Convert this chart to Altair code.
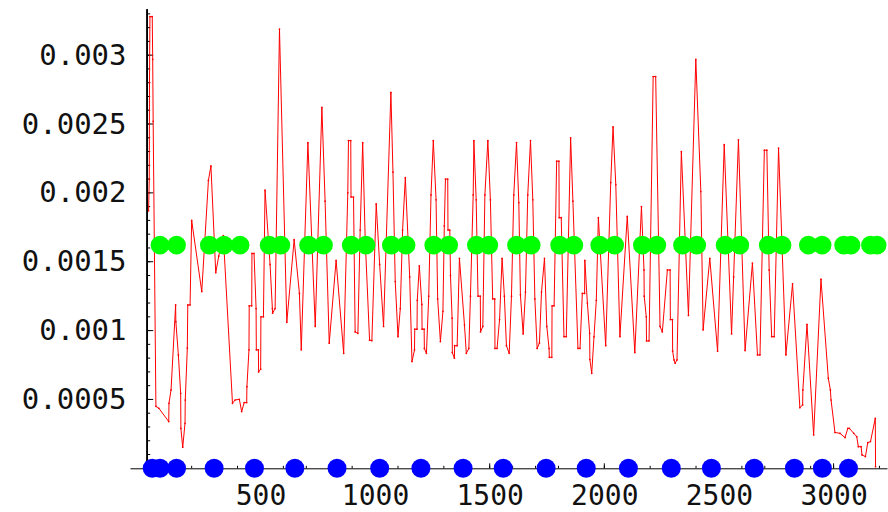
import altair as alt
import pandas as pd

# ---- red series (x, value) ----
red_x = [12, 15, 16, 18, 28, 30, 32, 44,
         57, 100, 101, 110, 130, 131, 142, 152, 153, 161, 171, 172, 181, 183, 193, 200,
         244, 273, 284, 305, 318, 338, 378, 389, 408, 418, 429, 440, 441, 450, 451, 462,
         463, 472, 481, 482, 491, 492, 501, 502, 513, 520, 542, 552, 553, 564, 583, 615,
         647, 670, 678, 707, 739, 768, 782, 800, 830, 863, 881, 884, 894, 895, 906, 913,
         925, 935, 946, 957, 976, 986, 1005, 1020, 1037, 1069, 1078, 1088, 1100, 1110,
         1120, 1132, 1151, 1161, 1172, 1173, 1183, 1184, 1193, 1204, 1205, 1214, 1215,
         1224, 1234, 1244, 1254,
         1266, 1273, 1285, 1296, 1302, 1307, 1317, 1318, 1326, 1329, 1336, 1337, 1346,
         1347, 1358, 1368, 1390, 1398, 1409, 1416, 1428, 1431, 1441, 1449, 1459, 1460,
         1470, 1479, 1492, 1503, 1513, 1522, 1523, 1532, 1543, 1554, 1564, 1573, 1585,
         1595, 1605, 1617, 1627, 1634, 1646, 1656, 1666, 1678, 1688, 1697, 1707, 1717,
         1726, 1739, 1749, 1759, 1760, 1771, 1772, 1781, 1792, 1802, 1803, 1812, 1824,
         1834, 1853, 1863, 1885, 1894,
         1904, 1914, 1915, 1926, 1936, 1937, 1945, 1955, 1965, 1974, 2006, 2028, 2038,
         2050, 2068, 2100, 2133, 2162, 2173, 2174, 2183, 2184, 2195, 2213, 2224, 2243,
         2253, 2275, 2287, 2288, 2297, 2298, 2304, 2309, 2317, 2336, 2367, 2399, 2421,
         2431, 2460, 2494, 2523,
         2555, 2564, 2585, 2614, 2646, 2668, 2679, 2698, 2709, 2719, 2730, 2741, 2760,
         2792, 2821, 2853, 2865, 2866, 2884, 2913, 2945, 2977, 2986, 2989, 3006, 3028,
         3050, 3062, 3069, 3088, 3101, 3108, 3120, 3124, 3139, 3149, 3161, 3182, 3183]
red_y = [0.00187, 0.00210, 0.00280, 0.00328, 0.00328, 0.00297, 0.00252, 0.00045,
         0.000436, 0.000339, 0.000472, 0.000569, 0.001186, 0.001065, 0.000823, 0.000545,
         0.00029, 0.000153, 0.000327, 0.000496, 0.000872, 0.001186, 0.001186, 0.0018,
         0.001283, 0.00209, 0.002196, 0.00142, 0.00154, 0.00169, 0.000472, 0.000496,
         0.000501, 0.000412, 0.000477, 0.000477, 0.000593, 0.00086, 0.00118, 0.00118,
         0.00156, 0.00156, 0.00116, 0.00086, 0.00086, 0.0007, 0.00072, 0.0011, 0.0011,
         0.00202, 0.00148, 0.00116, 0.001126, 0.00116, 0.00319, 0.00106,
         0.00166, 0.00127, 0.00086, 0.002365, 0.00103, 0.00262, 0.00194, 0.000908,
         0.00151, 0.000835, 0.0020, 0.00238, 0.00238, 0.00197, 0.00197, 0.00099,
         0.00098, 0.00173, 0.002365, 0.00166, 0.00093, 0.000927, 0.00192, 0.00148,
         0.00103, 0.00273, 0.00215, 0.001356, 0.000956, 0.00116, 0.00173, 0.00211,
         0.00139, 0.000775, 0.00086, 0.00101, 0.00101, 0.00122, 0.00147, 0.00119,
         0.00101, 0.00101, 0.00087, 0.000835, 0.00125, 0.001985, 0.00238,
         0.00195, 0.00123, 0.00092, 0.00114, 0.00176, 0.0021, 0.0021, 0.00173, 0.00173,
         0.0014, 0.00109, 0.00084, 0.0008, 0.00089, 0.00089, 0.001525, 0.00104,
         0.000835, 0.00087, 0.00125, 0.001985, 0.00238, 0.00195, 0.00125, 0.00125,
         0.00099, 0.00103, 0.001985, 0.00238, 0.00195, 0.00123, 0.00123, 0.00087,
         0.00087, 0.00108, 0.001525, 0.00125, 0.00089, 0.000835, 0.00125, 0.001985,
         0.002365, 0.00193, 0.00126, 0.000976, 0.00128, 0.001985, 0.00238, 0.00195,
         0.00123, 0.00087, 0.00091, 0.00128, 0.001525, 0.00103, 0.00087, 0.000806,
         0.000806, 0.00118, 0.00118, 0.00223, 0.00223, 0.00182, 0.00182, 0.000956,
         0.000956, 0.0024, 0.00194, 0.00087, 0.00087,
         0.00127, 0.00127, 0.00151, 0.0012, 0.00098, 0.00079, 0.00069, 0.000956,
         0.00122, 0.00182, 0.00089, 0.002075, 0.00248, 0.00206, 0.000956, 0.00183,
         0.00084, 0.0019, 0.00144, 0.00125, 0.0011, 0.000925, 0.000925, 0.002845,
         0.002845, 0.00103, 0.00099, 0.00144, 0.00144, 0.00108, 0.00108, 0.00085,
         0.000787, 0.000763, 0.000787, 0.0023, 0.00111, 0.00297, 0.00201, 0.001005,
         0.001525, 0.00085, 0.00235,
         0.000976, 0.00139, 0.002385, 0.000855, 0.00149, 0.000823, 0.000823, 0.00231,
         0.00231, 0.00144, 0.000956, 0.000956, 0.002325, 0.000823, 0.00134, 0.00044,
         0.00046, 0.000569, 0.001046, 0.000242, 0.001373, 0.000654, 0.000569, 0.000496,
         0.00026, 0.000254, 0.000223, 0.00029, 0.00029, 0.000254, 0.00023, 0.000157,
         0.000157, 0.000097, 0.000085, 0.000186, 0.000194, 0.000363, 0.000012]

# ---- green markers (y ~ 0.00162) ----
green_x = [62, 134, 277, 341, 411, 538, 589, 710, 775, 896, 960, 1071, 1135, 1256,
           1321, 1442, 1496, 1617, 1681, 1805, 1867, 1980, 2045, 2166, 2229, 2341,
           2403, 2527, 2591, 2715, 2775, 2890, 2950, 3044, 3076, 3161, 3190]
green_level = 0.00162

# ---- blue markers on the axis (y = 0) ----
blue_x = [28, 62, 134, 298, 474, 650, 834, 1020, 1200, 1384, 1559, 1746, 1921, 2105,
          2292, 2467, 2654, 2829, 2951, 3065]
blue_level = 0.0

# ---- axis ticks / labels ----
x_label_values = [500, 1000, 1500, 2000, 2500, 3000]
x_minor_ticks = list(range(100, 3300, 100))
y_label_values = [0.0005, 0.001, 0.0015, 0.002, 0.0025, 0.003]
y_minor_ticks = [i / 10000 for i in range(1, 34)]
y_axis_origin_x = 6

X_DOMAIN = [-69, 3233]
Y_DOMAIN = [0, 0.003333]
FONT = "DejaVu Sans Mono"

red_df = pd.DataFrame({"x": red_x, "y": red_y, "i": range(len(red_x))})
green_df = pd.DataFrame({"x": green_x, "y": [green_level] * len(green_x)})
blue_df = pd.DataFrame({"x": blue_x, "y": [blue_level] * len(blue_x)})
xmaj_df = pd.DataFrame({"x": x_label_values})
xmin_df = pd.DataFrame({"x": x_minor_ticks})
ymaj_df = pd.DataFrame({"y": y_label_values})
ymin_df = pd.DataFrame({"y": y_minor_ticks})

xscale = alt.Scale(domain=X_DOMAIN, nice=False, zero=False)
yscale = alt.Scale(domain=Y_DOMAIN, nice=False, zero=False)

xaxis = alt.Axis(values=x_label_values, ticks=False, grid=False, domain=True,
                 domainColor="black", domainWidth=1, labelFont=FONT, labelFontSize=28,
                 labelColor="#111111", labelPadding=14, title=None, format="d",
                 labelFlush=False, labelOverlap=False)
yaxis = alt.Axis(values=y_label_values, ticks=False, grid=False, domain=False,
                 labelFont=FONT, labelFontSize=29, labelColor="#111111", labelPadding=4,
                 title=None, format="~g", labelFlush=False, labelOverlap=False)

# axes (drawn as marks positioned in data space)
x_axis_layer = alt.Chart(xmaj_df).mark_rule(strokeWidth=0).encode(
    x=alt.X("x:Q", scale=xscale, axis=xaxis),
    y=alt.Y(datum=0, scale=yscale, axis=yaxis),
)
y_axis_line = alt.Chart(ymaj_df).mark_rule(color="black", strokeWidth=1).encode(
    x=alt.datum(y_axis_origin_x),
    y=alt.datum(Y_DOMAIN[0]),
    y2=alt.datum(Y_DOMAIN[1]),
)
x_major = alt.Chart(xmaj_df).mark_rule(color="black", strokeWidth=1, y2Offset=-5).encode(
    x="x:Q", y=alt.datum(0), y2=alt.datum(0))
x_minor = alt.Chart(xmin_df).mark_rule(color="black", strokeWidth=1, y2Offset=-2.5).encode(
    x="x:Q", y=alt.datum(0), y2=alt.datum(0))
y_major = alt.Chart(ymaj_df).mark_rule(color="black", strokeWidth=1, x2Offset=6).encode(
    y="y:Q", x=alt.datum(y_axis_origin_x), x2=alt.datum(y_axis_origin_x))
y_minor = alt.Chart(ymin_df).mark_rule(color="black", strokeWidth=1, x2Offset=3).encode(
    y="y:Q", x=alt.datum(y_axis_origin_x), x2=alt.datum(y_axis_origin_x))

red = alt.Chart(red_df).mark_line(color="#ff0000", strokeWidth=1).encode(
    x="x:Q", y="y:Q", order="i:Q")
red_pts = alt.Chart(red_df).mark_circle(color="#ff0000", size=3, opacity=1).encode(
    x="x:Q", y="y:Q")
green = alt.Chart(green_df).mark_circle(color="#00ff00", size=350, opacity=1).encode(
    x="x:Q", y="y:Q")
blue = alt.Chart(blue_df).mark_circle(color="#0000ff", size=360, opacity=1).encode(
    x="x:Q", y="y:Q")

chart = alt.layer(
    x_axis_layer, y_axis_line, x_minor, x_major, y_minor, y_major,
    red, red_pts, green, blue
).properties(
    width=757, height=459,
    autosize=alt.AutoSizeParams(type="none"),
    padding={"left": 130, "top": 9.3, "right": 1, "bottom": 44},
    background="white",
).configure_view(stroke=None)

chart.save("out.html", embed_options={"renderer": "svg", "actions": False})
